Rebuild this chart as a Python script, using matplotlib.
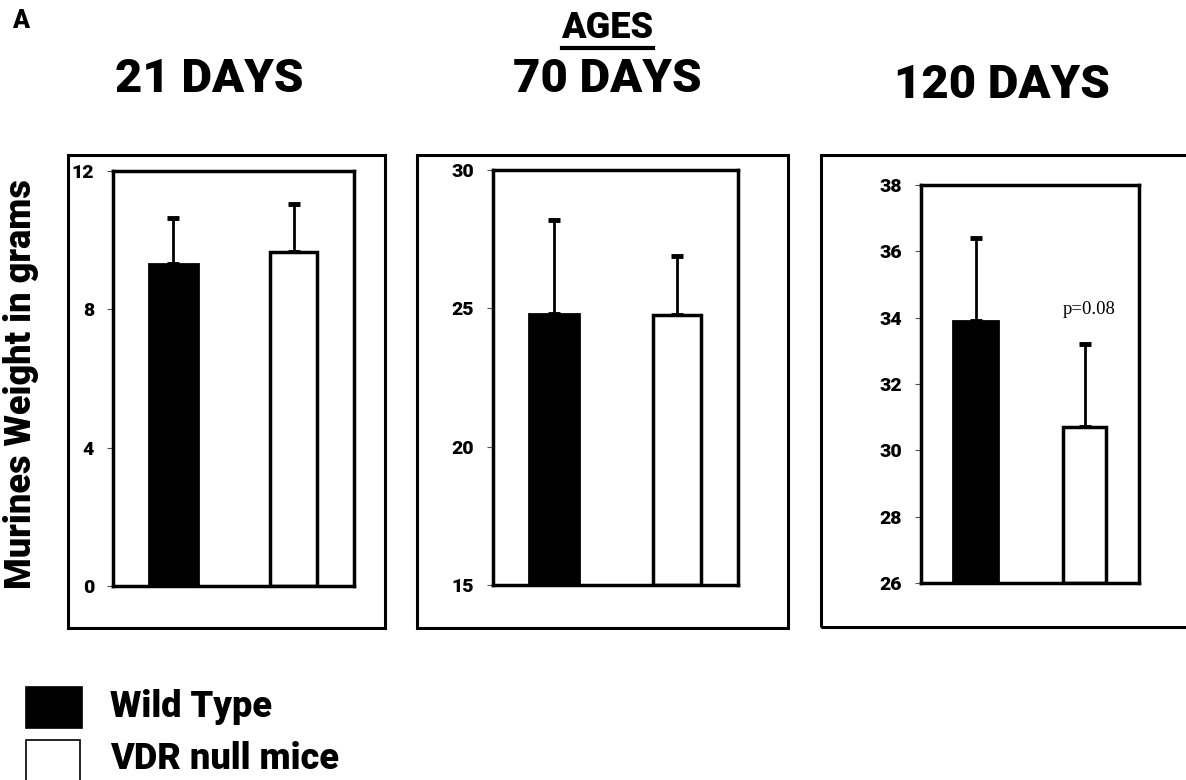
import matplotlib.pyplot as plt
from matplotlib.patches import Rectangle

ages = ["21 DAYS", "70 DAYS", "120 DAYS"]
groups = ["Wild Type", "VDR null mice"]
wt_mean = [9.3, 24.8, 33.9]
wt_sd = [1.35, 3.4, 2.5]
vdr_mean = [9.65, 24.75, 30.7]
vdr_sd = [1.4, 2.15, 2.5]
ylims = [(0, 12), (15, 30), (26, 38)]
yticks = [[0, 4, 8, 12], [15, 20, 25, 30], [26, 28, 30, 32, 34, 36, 38]]

W, H = 1186, 780
plt.rcParams['font.family'] = ['Roboto', 'Liberation Sans', 'DejaVu Sans']
fig = plt.figure(figsize=(W / 100, H / 100), dpi=100)


def fbox(x0, y0, x1, y1):
    # pixel box -> figure fraction [left, bottom, width, height]
    return [x0 / W, 1 - y1 / H, (x1 - x0) / W, (y1 - y0) / H]


# inner axes and outer frames in pixels
axes_px = [(113, 171, 354, 586), (493, 170, 738, 585), (921, 185, 1139, 583)]
frames_px = [(68, 155, 385, 628), (417, 155, 788, 628), (821, 155, 1200, 627)]
title_pos = [(209, 79), (607, 79), (1002, 85)]
HEAVY = 900

for i in range(3):
    fx0, fy0, fx1, fy1 = frames_px[i]
    b = fbox(fx0, fy0, fx1, fy1)
    fig.patches.append(Rectangle((b[0], b[1]), b[2], b[3], transform=fig.transFigure,
                                 fill=False, edgecolor='black', linewidth=2.2))
    ax = fig.add_axes(fbox(*axes_px[i]))
    ax.bar([0], [wt_mean[i] - ylims[i][0]], bottom=ylims[i][0], width=0.41,
           color='black', edgecolor='black', linewidth=2, zorder=2)
    ax.bar([1], [vdr_mean[i] - ylims[i][0]], bottom=ylims[i][0], width=0.39,
           color='white', edgecolor='black', linewidth=2.5, zorder=2)
    ax.errorbar([0], [wt_mean[i]], yerr=[[0], [wt_sd[i]]], fmt='none', ecolor='black',
                elinewidth=2, capsize=4, capthick=3.5, zorder=1)
    ax.errorbar([1], [vdr_mean[i]], yerr=[[0], [vdr_sd[i]]], fmt='none', ecolor='black',
                elinewidth=2, capsize=4, capthick=3.5, zorder=1)
    ax.set_xlim(-0.5, 1.5)
    ax.set_ylim(*ylims[i])
    ax.set_yticks(yticks[i])
    ax.set_yticklabels([str(t) for t in yticks[i]], fontsize=14, fontweight=HEAVY)
    ax.set_xticks([])
    ax.tick_params(axis='y', length=4.5, width=0.8, pad=9, color='#555555')
    for s in ax.spines.values():
        s.set_linewidth(2.5)
    fig.text(title_pos[i][0] / W, 1 - title_pos[i][1] / H, ages[i], ha='center',
             va='center', fontsize=34, fontweight=HEAVY)
    if i == 2:
        ax.text(1.04, 34.25, "p=0.08", ha='center', va='center', fontsize=13.5,
                family='Liberation Serif')

fig.text(607 / W, 1 - 28 / H, "AGES", ha='center', va='center', fontsize=26,
         fontweight=HEAVY)
fig.add_artist(plt.Line2D([562 / W, 653 / W], [1 - 48 / H, 1 - 48 / H], color='black',
                          linewidth=3))
fig.text(12 / W, 1 - 21 / H, "A", ha='left', va='center', fontsize=18, fontweight=HEAVY)
fig.text(21 / W, 1 - 384 / H, "Murines Weight in grams", rotation=90, ha='center',
         va='center', fontsize=26, fontweight=HEAVY)

# legend boxes
colors = ['black', 'white']
leg_px = [(26, 687, 82, 728), (26, 740, 80, 782)]
for j in range(2):
    b = fbox(*leg_px[j])
    fig.patches.append(Rectangle((b[0], b[1]), b[2], b[3], transform=fig.transFigure,
                                 facecolor=colors[j], edgecolor='black', linewidth=1.2))
    fig.text(110 / W, 1 - (707 + 52 * j) / H, groups[j], ha='left', va='center',
             fontsize=26, fontweight=HEAVY)

fig.savefig("out.png", dpi=100)
